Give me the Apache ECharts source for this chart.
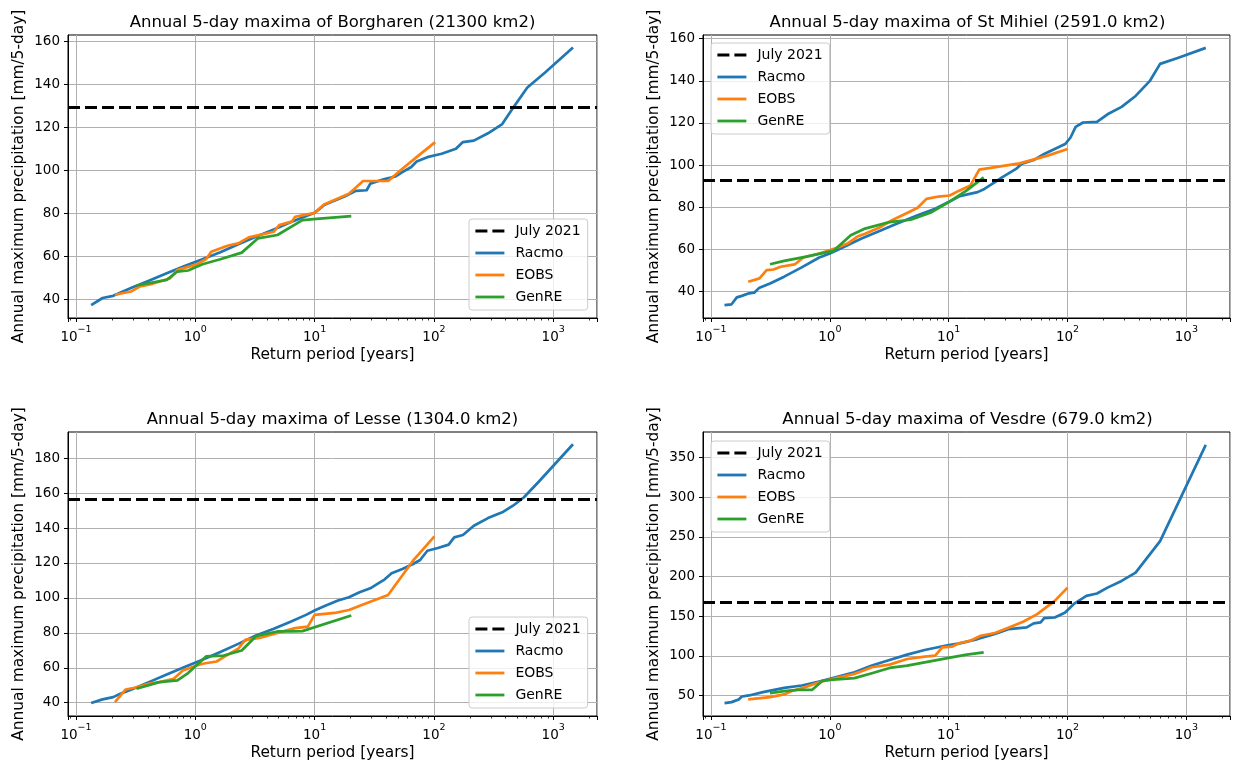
<!DOCTYPE html>
<html><head><meta charset="utf-8">
<script src="https://cdn.jsdelivr.net/npm/echarts@6/dist/echarts.min.js"></script>
<style>html,body{margin:0;padding:0;background:#fff}#c{width:1233px;height:765px}</style>
</head><body><div id="c"></div><script>
// ---------- data ----------
const seriesNames = ['July 2021', 'Racmo', 'EOBS', 'GenRE'];
const titles = [
  'Annual 5-day maxima of Borgharen (21300 km2)',
  'Annual 5-day maxima of St Mihiel (2591.0 km2)',
  'Annual 5-day maxima of Lesse (1304.0 km2)',
  'Annual 5-day maxima of Vesdre (679.0 km2)'
];
const xName = 'Return period [years]';
const yName = 'Annual maximum precipitation [mm/5-day]';
const july2021 = [129, 93, 156.4, 167];

// Borgharen
const borgRacmoT = [0.134,0.167,0.205,0.289,0.408,0.576,0.813,1.148,1.62,2.29,3.22,4.55,6.43,10,12,18,22.2,27.3,29.3,38.5,47.4,54.4,64.6,71.6,88.1,116,153,175,216,284,374,460,607,855,1465];
const borgRacmoP = [37.2,40.5,41.5,45.1,48.5,52,55.4,58.5,61.8,65.5,69,72.4,76,80.1,83.7,87.8,90.3,90.6,93.7,95.8,97,99,101.4,104,106,107.6,109.9,113,113.7,117.1,121.4,128.8,138.4,145.4,157];
const borgEobsT = [0.212,0.289,0.344,0.437,0.617,0.708,1.0,1.23,1.36,1.86,2.29,2.81,4.55,5.05,6.43,6.88,10,12,19.4,25.5,41.3,54.4,71.6,102.5];
const borgEobsP = [42,43.5,45.9,47.1,49.7,53.6,55.9,58.5,62,64.8,65.9,68.7,71.3,74.4,76,78.3,80.1,84,89,94.9,94.9,100.6,106,113];
const borgGenreT = [0.321,0.576,0.708,0.87,1.148,1.62,2.45,3.34,4.88,7.9,10.4,20.3];
const borgGenreP = [46.3,48.9,52.8,53.3,56.2,58.5,61.6,68.2,69.8,76.7,77.3,78.6];

// St Mihiel
const mihRacmoT = [0.13,0.149,0.165,0.182,0.209,0.231,0.256,0.314,0.413,0.58,0.815,1.0,1.31,1.85,2.59,3.65,5.48,7.7,10,12.4,17.5,20,24.5,28.1,36.9,40.9,51.9,63.6,78,95.5,106,117,135,177,217,285,374,491,601,845,1456];
const mihRacmoP = [33.6,34,37.3,38,39.2,39.5,41.9,43.9,47.1,51.5,56.2,58.1,61.2,65.2,68.6,72.2,76.2,79.3,82.5,85.3,87.2,88.7,91.9,94.2,98.2,100.5,102.4,105.3,107.6,110,113.1,118.1,120.2,120.5,124.1,127.6,132.8,139.8,148,150.8,155.6];
const mihEobsT = [0.206,0.256,0.294,0.336,0.386,0.506,0.6,0.815,1.15,1.41,1.73,1.98,2.59,3.4,4.47,5.48,6.5,8.24,10.2,12.4,15.2,18.1,39.5,68,100];
const mihEobsP = [44.7,46.3,50.2,50.5,51.8,52.9,56.2,58.1,60.8,62.8,66.3,67.5,70.3,74.1,77.3,79.8,84,85.1,85.6,88,90.3,97.9,100.8,104.5,107.6];
const mihGenreT = [0.314,0.413,0.62,1.07,1.5,1.98,3.18,4.79,7.2,10,14.2,19.7];
const mihGenreP = [53,54.6,56.5,59.3,66.7,69.9,73,74.1,77.7,82.5,88,94.2];

// Lesse
const lesRacmoT = [0.134,0.167,0.205,0.235,0.289,0.408,0.576,0.813,1.148,1.62,2.29,3.22,4.55,6.43,8.47,10,12,15.7,19.4,23.8,29.3,33.6,38.5,44.2,54.4,66.8,76.7,88.1,108,133,148,175,216,284,374,460,566,746,1465];
const lesRacmoP = [39.8,41.9,43.2,45.1,47.4,51.8,56.2,60.4,64.6,69,73.7,78.5,82.3,86.7,90.3,92.8,95.2,98.5,100.4,103.2,105.5,108,110.5,114.1,116.6,119.4,121.7,127,128.6,130.5,134.7,136,141.3,145.7,149,152.8,157.5,166.1,188];
const lesEobsT = [0.212,0.261,0.31,0.408,0.5,0.66,0.786,1.0,1.148,1.51,1.73,2.29,2.62,3.46,4.55,6.88,8.77,10,14.7,19.4,25.5,41.3,66.8,101];
const lesEobsP = [40.4,47.6,48.6,50.9,51.8,53.7,58.5,61,62.3,63.6,66.1,70.9,76,77.1,79.4,82.7,83.6,90.3,91.4,93.1,96.2,101.7,121.3,135.2];
const lesGenreT = [0.321,0.5,0.708,0.87,1.23,1.73,2.45,3.22,4.88,6.43,7.9,20.3];
const lesGenreP = [48,51.8,52.8,57,66.5,67,69.9,78.1,80.8,80.8,81,89.9];

// Vesdre
const vesRacmoT = [0.13,0.149,0.171,0.182,0.209,0.274,0.413,0.58,0.815,1.0,1.61,2.26,3.18,4.47,6.28,10,12.4,17.5,24.5,32.2,45.3,51.9,59.4,63.6,78,89.3,95.5,114,144,177,217,285,374,601,1456];
const vesRacmoP = [40.4,41.6,45,48.7,50,54.2,59.6,62.6,67.6,70.9,79.3,87.7,94.8,101.5,107.3,113.6,115.7,121.1,127.4,133.7,135.8,140.8,142.1,147.5,148.3,152.5,154.6,165.9,175.5,178.5,186,194.4,204.8,244.6,365.9];
const vesEobsT = [0.206,0.314,0.413,0.473,0.62,0.815,1.15,1.61,1.85,2.26,3.18,4.47,6.28,7.7,8.83,10.6,12.4,15.2,18.6,24.5,32.2,42.3,55.6,78,100];
const vesEobsP = [45,47.9,51.3,55.4,60.5,66.7,72.2,77.2,80.5,85.6,88.9,96,99,100.2,110.7,111.5,116.1,119,125.3,128.7,135.8,142.9,152.5,169.2,186];
const vesGenreT = [0.314,0.413,0.54,0.711,0.873,1.07,1.61,2.26,3.18,4.47,6.28,10,14.2,19.7];
const vesGenreP = [52.9,55.4,57.1,57.1,68.8,70,71.8,78,84.7,87.7,91.8,97.3,101.5,104.4];

// axis limits (matplotlib auto margins) and tick values
const yMin = [31.2, 27.5, 32.4, 24.1];
const yMax = [162.8, 161.7, 195.0, 382.2];
const yStep = [20, 20, 20, 50];
const ySplit = [6, 6, 8, 7];
const yTicks = [
  [40, 60, 80, 100, 120, 140, 160],
  [40, 60, 80, 100, 120, 140, 160],
  [40, 60, 80, 100, 120, 140, 160, 180],
  [50, 100, 150, 200, 250, 300, 350]
];
const xMin = 0.0857, xMax = 2328;

// ---------- layout / style ----------
const FONT = 'DejaVu Sans';
const COLORS = {racmo: '#1f77b4', eobs: '#ff7f0e', genre: '#2ca02c'};
const grids = [
  {left: 68, top: 35, width: 529, height: 283},
  {left: 703, top: 35, width: 529, height: 283},
  {left: 68, top: 432, width: 529, height: 284},
  {left: 703, top: 432, width: 529, height: 284}
];
const legendPos = [[469, 219], [711, 43], [469, 617], [711, 441]];
const DASH = [12, 5];

const panels = [
  [borgRacmoT, borgRacmoP, borgEobsT, borgEobsP, borgGenreT, borgGenreP],
  [mihRacmoT, mihRacmoP, mihEobsT, mihEobsP, mihGenreT, mihGenreP],
  [lesRacmoT, lesRacmoP, lesEobsT, lesEobsP, lesGenreT, lesGenreP],
  [vesRacmoT, vesRacmoP, vesEobsT, vesEobsP, vesGenreT, vesGenreP]
];
const zip = (a, b) => a.map((v, i) => [v, b[i]]);

const series = [];
panels.forEach((p, i) => {
  series.push({
    name: 'July 2021', type: 'line', xAxisIndex: i, yAxisIndex: i, data: [],
    symbol: 'none', itemStyle: {color: '#000'},
    lineStyle: {color: '#000', width: 3, type: DASH},
    markLine: {
      silent: true, symbol: ['none', 'none'], label: {show: false}, animation: false,
      lineStyle: {color: '#000', width: 3, type: DASH},
      emphasis: {disabled: true},
      data: [{yAxis: july2021[i]}]
    }
  });
  [['Racmo', COLORS.racmo, 0], ['EOBS', COLORS.eobs, 2], ['GenRE', COLORS.genre, 4]].forEach(([n, c, k]) => {
    series.push({
      name: n, type: 'line', xAxisIndex: i, yAxisIndex: i,
      data: zip(p[k], p[k + 1]), symbol: 'none', showSymbol: false,
      itemStyle: {color: c},
      lineStyle: {color: c, width: 2.7, join: 'round', cap: 'butt'},
      emphasis: {disabled: true}
    });
  });
});

const supFmt = v => {
  const l = Math.log10(v), e = Math.round(l);
  if (Math.abs(l - e) > 1e-6) return '';
  return '{b|10}{s|' + (e < 0 ? '\u2212' : '') + Math.abs(e) + '}';
};

const option = {
  animation: false,
  backgroundColor: '#fff',
  title: grids.map((g, i) => ({
    text: titles[i], left: g.left + g.width / 2, top: g.top - 21, textAlign: 'center', padding: 0,
    textStyle: {fontFamily: FONT, fontSize: 16.5, fontWeight: 'normal', color: '#000'}
  })),
  legend: grids.map((g, i) => ({
    data: seriesNames, orient: 'vertical', left: legendPos[i][0], top: legendPos[i][1],
    padding: [5, 7, 6, 5], itemWidth: 29, itemHeight: 14, itemGap: 8,
    backgroundColor: 'rgba(255,255,255,0.8)', borderColor: '#cccccc', borderWidth: 1, borderRadius: 3,
    itemStyle: {opacity: 0}, lineStyle: {width: 2.8},
    textStyle: {fontFamily: FONT, fontSize: 14, color: '#000', padding: [0, 0, 0, 6]},
    selectedMode: false
  })),
  grid: grids.map(g => Object.assign({show: true, borderColor: '#000', borderWidth: 1, backgroundColor: 'transparent', containLabel: false}, g)),
  xAxis: grids.map((g, i) => ({
    type: 'log', logBase: 10, gridIndex: i, min: xMin, max: xMax,
    name: xName, nameLocation: 'middle', nameGap: 29,
    nameTextStyle: {fontFamily: FONT, fontSize: 15.4, color: '#000'},
    axisLine: {show: true, lineStyle: {color: '#000', width: 1}},
    axisTick: {show: true, inside: false, length: 4, lineStyle: {color: '#000', width: 1}},
    minorTick: {show: true, splitNumber: 9, length: 2.5, lineStyle: {color: '#000', width: 0.8}},
    splitLine: {show: true, lineStyle: {color: '#b0b0b0', width: 1}},
    axisLabel: {
      margin: 7, formatter: supFmt, showMinLabel: true, showMaxLabel: true, hideOverlap: false,
      rich: {
        b: {fontFamily: FONT, fontSize: 13.5, color: '#000', lineHeight: 19, verticalAlign: 'bottom'},
        s: {fontFamily: FONT, fontSize: 9.5, color: '#000', lineHeight: 19, verticalAlign: 'top'}
      }
    }
  })),
  yAxis: grids.map((g, i) => ({
    type: 'value', gridIndex: i, min: yMin[i], max: yMax[i],
    splitNumber: ySplit[i], minInterval: yStep[i], maxInterval: yStep[i],
    name: yName, nameLocation: 'middle', nameRotate: 90, nameGap: 42,
    nameTextStyle: {fontFamily: FONT, fontSize: 15.4, color: '#000'},
    axisLine: {show: true, lineStyle: {color: '#000', width: 1}},
    axisTick: {show: true, inside: false, length: 4, customValues: yTicks[i], lineStyle: {color: '#000', width: 1}},
    splitLine: {show: true, lineStyle: {color: '#b0b0b0', width: 1}},
    axisLabel: {
      margin: 8, fontFamily: FONT, fontSize: 13.5, color: '#000', customValues: yTicks[i],
      formatter: v => String(Math.round(v))
    }
  })),
  series: series
};

const chart = echarts.init(document.getElementById('c'), null, {renderer: 'canvas'});
chart.setOption(option);
</script></body></html>
